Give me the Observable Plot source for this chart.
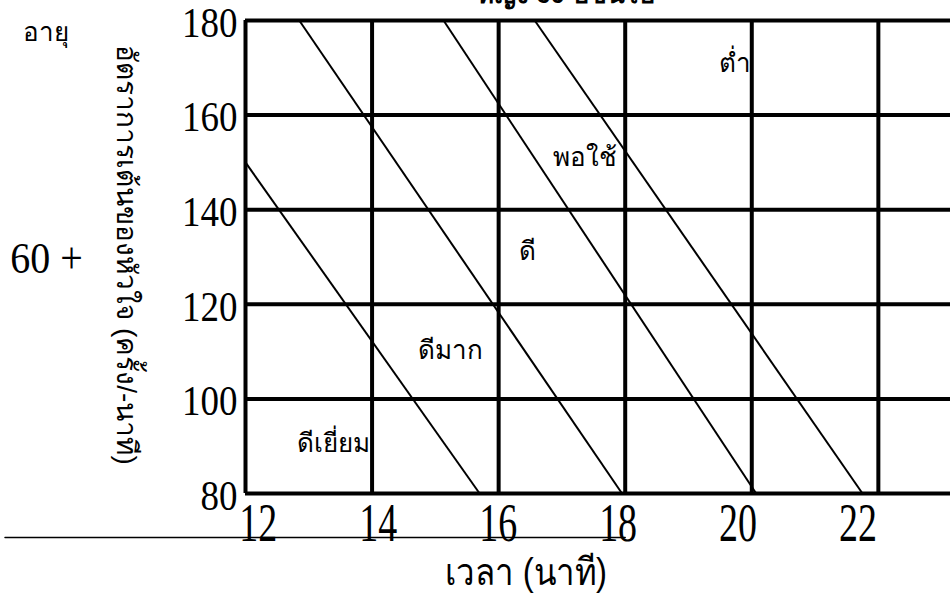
<!DOCTYPE html>
<html>
<head>
<meta charset="utf-8">
<script src="https://cdn.jsdelivr.net/npm/d3@7"></script>
<script src="https://cdn.jsdelivr.net/npm/@observablehq/plot@0.6"></script>
<style>
  html, body { margin: 0; padding: 0; background: #fff; }
  #chart svg { display: block; }
</style>
</head>
<body>
<div id="chart"></div>
<script>
// ---- data ----
const titleText = "หญิง 60 ปีขึ้นไป";
const ageLabel = "อายุ";
const ageGroup = "60 +";
const yLabel = "อัตราการเต้นของหัวใจ (ครั้ง/-นาที)";
const xLabel = "เวลา (นาที)";

const xTicks = [12, 14, 16, 18, 20, 22];
const yTicks = [80, 100, 120, 140, 160, 180];

// boundary lines between fitness zones (time in minutes, heart rate)
const lineStartX = [12, 12.85, 15.13, 16.57];
const lineStartY = [150, 180, 180, 180];
const lineEndX = [15.7, 17.95, 20.07, 21.75];
const lineEndY = [80, 80, 80, 80];

// zone names and where they sit
const zoneNames = ["ดีเยี่ยม", "ดีมาก", "ดี", "พอใช้", "ต่ำ"];
const zoneX = [13.39, 15.24, 16.45, 17.36, 19.74];
const zoneY = [90.6, 110.1, 131.2, 150.9, 170.9];

// stray underline below the x axis
const underlineX = [8.2, 18.0];
const underlineY = [70.7, 70.7];

const thaiFont = "sans-serif";
const serifFont = "'Liberation Serif', 'Times New Roman', serif";

const segIdx = lineStartX.map((_, i) => i);
const zoneIdx = zoneNames.map((_, i) => i);
const ulIdx = underlineX.map((_, i) => i);

// the x tick labels in the reference sit on a slightly narrower, even spacing
const xTickLabelPos = d => 12.2 + (d - 12) * 0.948;

const chart = Plot.plot({
  width: 950,
  height: 598,
  marginLeft: 245,
  marginRight: 0,
  marginTop: 20,
  marginBottom: 105,
  x: {domain: [12, 23.14], axis: null},
  y: {domain: [80, 180], axis: null},
  style: {background: "white", color: "black", overflow: "visible"},
  marks: [
    Plot.ruleX(xTicks, {x: d => d, stroke: "black", strokeWidth: 4}),
    Plot.ruleY(yTicks, {y: d => d, stroke: "black", strokeWidth: 4}),
    Plot.link(segIdx, {
      x1: i => lineStartX[i], y1: i => lineStartY[i],
      x2: i => lineEndX[i], y2: i => lineEndY[i],
      stroke: "black", strokeWidth: 2
    }),
    Plot.line(ulIdx, {x: i => underlineX[i], y: i => underlineY[i], stroke: "black", strokeWidth: 1.5}),
    Plot.text(zoneIdx, {
      x: i => zoneX[i], y: i => zoneY[i], text: i => zoneNames[i],
      fontFamily: thaiFont, fontSize: 26, fill: "black"
    }),
    Plot.text(xTicks, {
      x: xTickLabelPos, text: d => String(d), frameAnchor: "bottom", dy: 47,
      fontFamily: serifFont, fontSize: 38, fill: "black"
    }),
    Plot.text(yTicks, {
      y: d => d, text: d => String(d), frameAnchor: "left", textAnchor: "end",
      dx: -8, dy: 3, fontFamily: serifFont, fontSize: 37, fill: "black"
    }),
    Plot.text([xLabel], {
      frameAnchor: "bottom", dx: -72, dy: 91,
      fontFamily: thaiFont, fontSize: 33, fill: "black"
    }),
    Plot.text([yLabel], {
      frameAnchor: "left", textAnchor: "middle", dx: -120, dy: -2, rotate: 90,
      fontFamily: thaiFont, fontSize: 28, fill: "black"
    }),
    Plot.text([ageLabel], {
      frameAnchor: "top-left", textAnchor: "middle", dx: -200, dy: 2,
      fontFamily: thaiFont, fontSize: 26, fill: "black"
    }),
    Plot.text([ageGroup], {
      frameAnchor: "left", textAnchor: "middle", dx: -199, dy: 2,
      fontFamily: serifFont, fontSize: 40, fill: "black"
    }),
    Plot.text([titleText], {
      frameAnchor: "top", dx: -32, dy: -18, lineAnchor: "bottom",
      fontFamily: thaiFont, fontSize: 26, fontWeight: "bold", fill: "black"
    })
  ]
});

// stretch the serif numerals vertically like in the reference
function stretch(fontSize, sy) {
  d3.select(chart).selectAll(`g[font-size="${fontSize}"] text`).each(function() {
    const t = this.getAttribute("transform") || "";
    this.setAttribute("transform", t + ` scale(1,${sy})`);
  });
}
stretch(38, 1.45);
stretch(37, 1.12);
stretch(40, 1.1);
stretch(33, 1.15);

document.getElementById("chart").appendChild(chart);
</script>
</body>
</html>
